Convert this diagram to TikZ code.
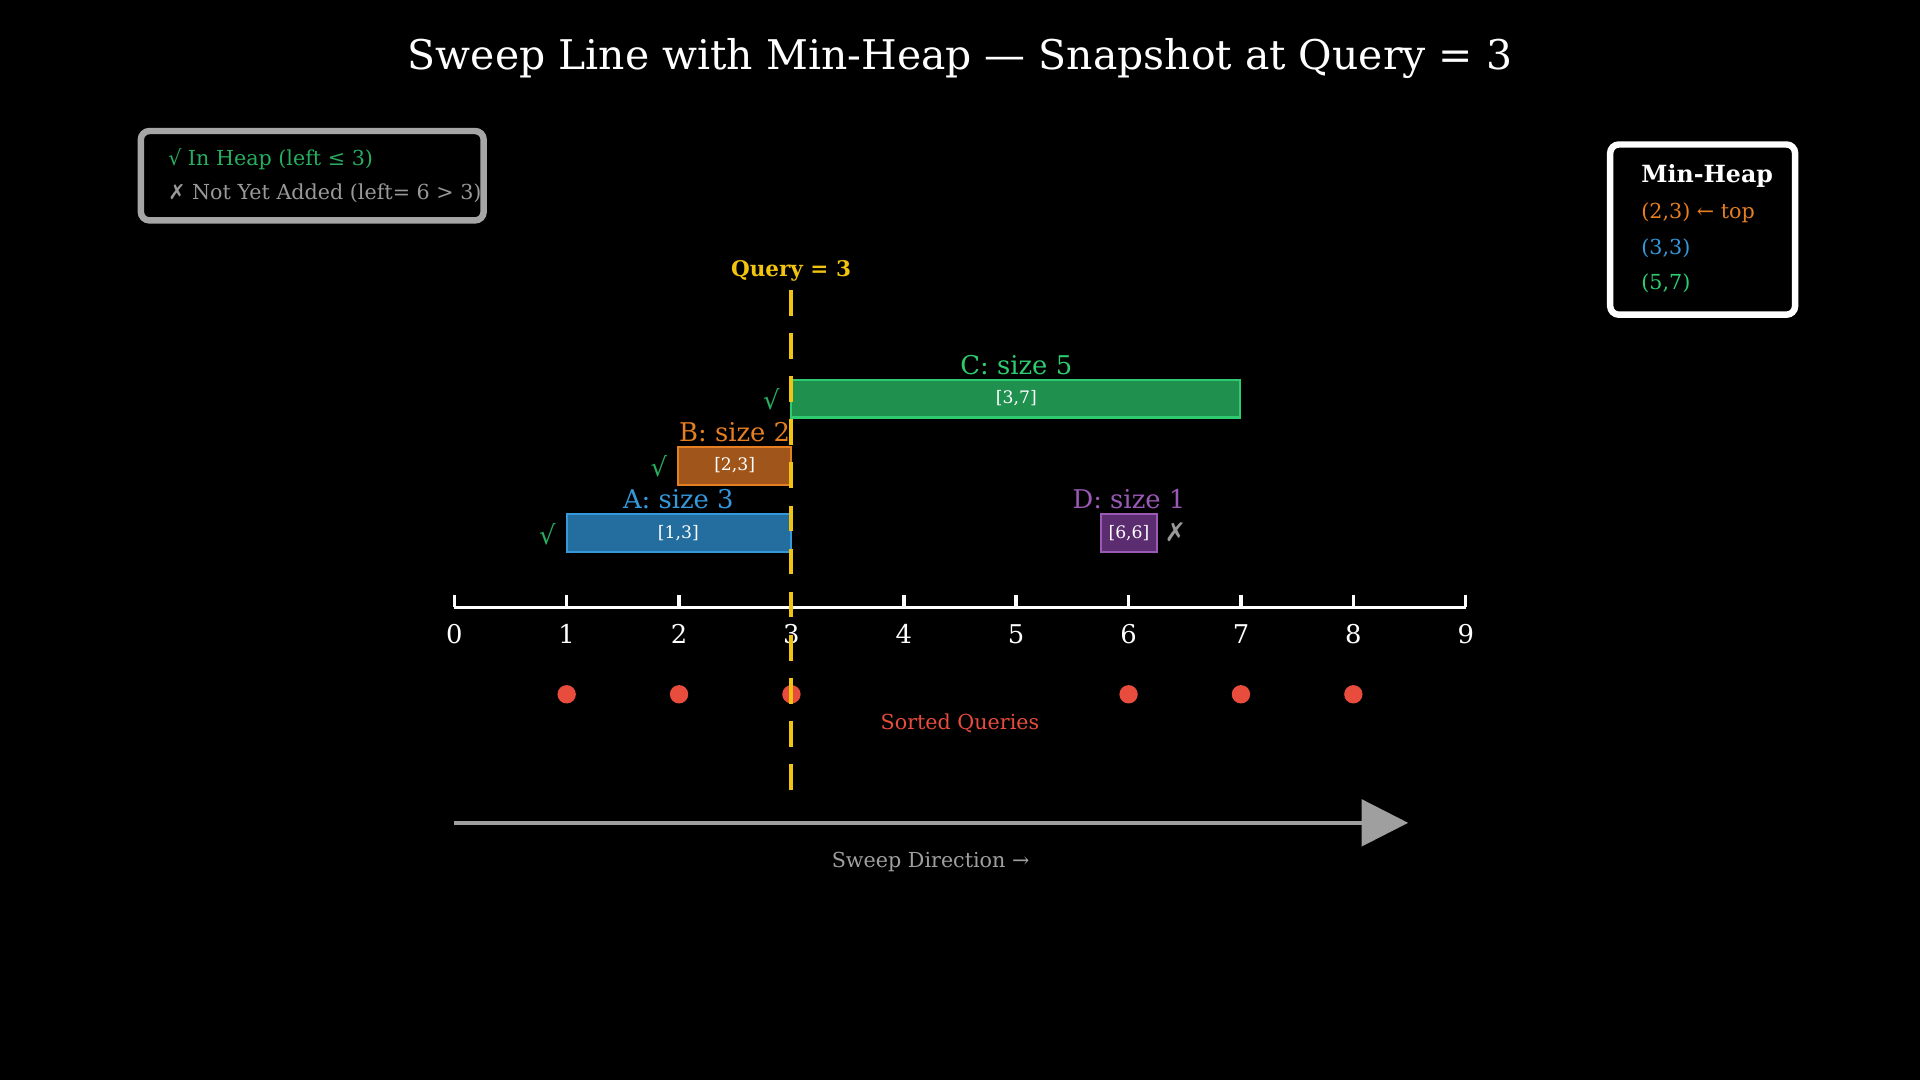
\documentclass[tikz,border=0pt]{standalone}
\usepackage{fontspec}
\setmainfont{DejaVu Serif}
\newfontfamily\symfont{DejaVu Sans}
\usetikzlibrary{arrows.meta}
\definecolor{ablue}{HTML}{3498DB}\definecolor{afill}{HTML}{236E9E}
\definecolor{borange}{HTML}{E67E22}\definecolor{bfill}{HTML}{A0561A}
\definecolor{cgreen}{HTML}{2ECC71}\definecolor{cfill}{HTML}{1F904E}
\definecolor{dpurple}{HTML}{9B59B6}\definecolor{dfill}{HTML}{5B2C6F}
\definecolor{qyellow}{HTML}{F1C40F}\definecolor{qred}{HTML}{E74C3C}
\definecolor{chk}{HTML}{27AE60}
\tikzset{
  bar/.style={draw=#1, line width=0.5pt, inner sep=0pt},
  rangetxt/.style={text=white, font=\fontsize{4}{5}\selectfont},
  barlabel/.style={font=\fontsize{6}{7}\selectfont},
  ticklabel/.style={text=white, font=\fontsize{6}{7}\selectfont},
  qdot/.style={circle, fill=qred, inner sep=0pt, minimum size=0.15cm},
  legbox/.style={draw, rounded corners=2pt, line width=1.5pt, inner sep=0pt}
}
\begin{document}
\begin{tikzpicture}[x=0.01cm,y=-0.01cm]
\fill[black] (0,0) rectangle (1568,882);
% title
\node[text=white, font=\fontsize{9.5}{11}\selectfont] (title) at (784,48) {Sweep Line with Min-Heap — Snapshot at Query = 3};
% legend
\draw[legbox, draw=gray!70] (115,107) rectangle (395,180);
\node[anchor=west, text=chk, font=\fontsize{4.8}{6}\selectfont] (legin) at (125,130) {√ In Heap (left ≤ 3)};
\node[anchor=west, text=gray!80, font=\fontsize{4.8}{6}\selectfont] (legout) at (125,158) {{\symfont ✗} Not Yet Added (left= 6 > 3)};
% heap
\draw[legbox, draw=white] (1315,118) rectangle (1466,257);
\node[anchor=west, text=white, font=\bfseries\fontsize{5.5}{7}\selectfont] (heap) at (1328,144) {Min-Heap};
\node[anchor=west, text=borange, font=\fontsize{4.8}{6}\selectfont] (h1) at (1328,174) {(2,3) ← top};
\node[anchor=west, text=ablue, font=\fontsize{4.8}{6}\selectfont] (h2) at (1328,203) {(3,3)};
\node[anchor=west, text=cgreen, font=\fontsize{4.8}{6}\selectfont] (h3) at (1328,231) {(5,7)};
% axis
\draw[white, line width=0.8pt] (371,496) -- (1197,496);
\foreach \v in {0,...,9}{
  \draw[white, line width=0.8pt] ({371+91.78*\v},486) -- ({371+91.78*\v},496);
  \node[ticklabel] (t\v) at ({371+91.78*\v},518) {\v};
}
% intervals
\fill[cfill] (646,310) rectangle (1013,341); \draw[bar=cgreen] (646,310) rectangle (1013,341);
\node[rangetxt] (cr) at (830,325) {[3,7]};
\node[barlabel, text=cgreen] (cl) at (830,298) {C: size 5};
\node[text=chk, font=\fontsize{6}{7}\selectfont] (cc) at (630,326) {√};
\fill[bfill] (554,365) rectangle (646,396); \draw[bar=borange] (554,365) rectangle (646,396);
\node[rangetxt] (br) at (600,380) {[2,3]};
\node[barlabel, text=borange] (bl) at (600,353) {B: size 2};
\node[text=chk, font=\fontsize{6}{7}\selectfont] (bc) at (538,381) {√};
\fill[afill] (463,420) rectangle (646,451); \draw[bar=ablue] (463,420) rectangle (646,451);
\node[rangetxt] (ar) at (554,435) {[1,3]};
\node[barlabel, text=ablue] (al) at (554,408) {A: size 3};
\node[text=chk, font=\fontsize{6}{7}\selectfont] (ac) at (447,436) {√};
\fill[dfill] (899,420) rectangle (945,451); \draw[bar=dpurple] (899,420) rectangle (945,451);
\node[rangetxt] (dr) at (922,435) {[6,6]};
\node[barlabel, text=dpurple] (dl) at (922,408) {D: size 1};
\node[text=gray!80, font=\symfont\fontsize{6}{7}\selectfont] (dx) at (960,435) {✗};
% queries
\foreach \v in {1,2,3,6,7,8}
  \node[qdot] (q\v) at ({371+91.78*\v},567) {};
\node[text=qred, font=\fontsize{4.8}{6}\selectfont] (sq) at (784,591) {Sorted Queries};
% query line
\draw[qyellow, line width=1pt, dash pattern=on 6pt off 4pt] (646,237) -- (646,650);
\node[text=qyellow, font=\bfseries\fontsize{5}{6}\selectfont] (ql) at (646,221) {Query = 3};
% sweep
\coordinate (s0) at (371,672);
\coordinate (s1) at (1150,672);
\draw[gray!75, line width=0.8pt, -{Triangle[length=0.38cm,width=0.38cm]}] (s0) -- (s1);
\node[text=gray!75, font=\fontsize{4.8}{6}\selectfont] (sd) at (760,704) {Sweep Direction →};
\end{tikzpicture}
\end{document}
